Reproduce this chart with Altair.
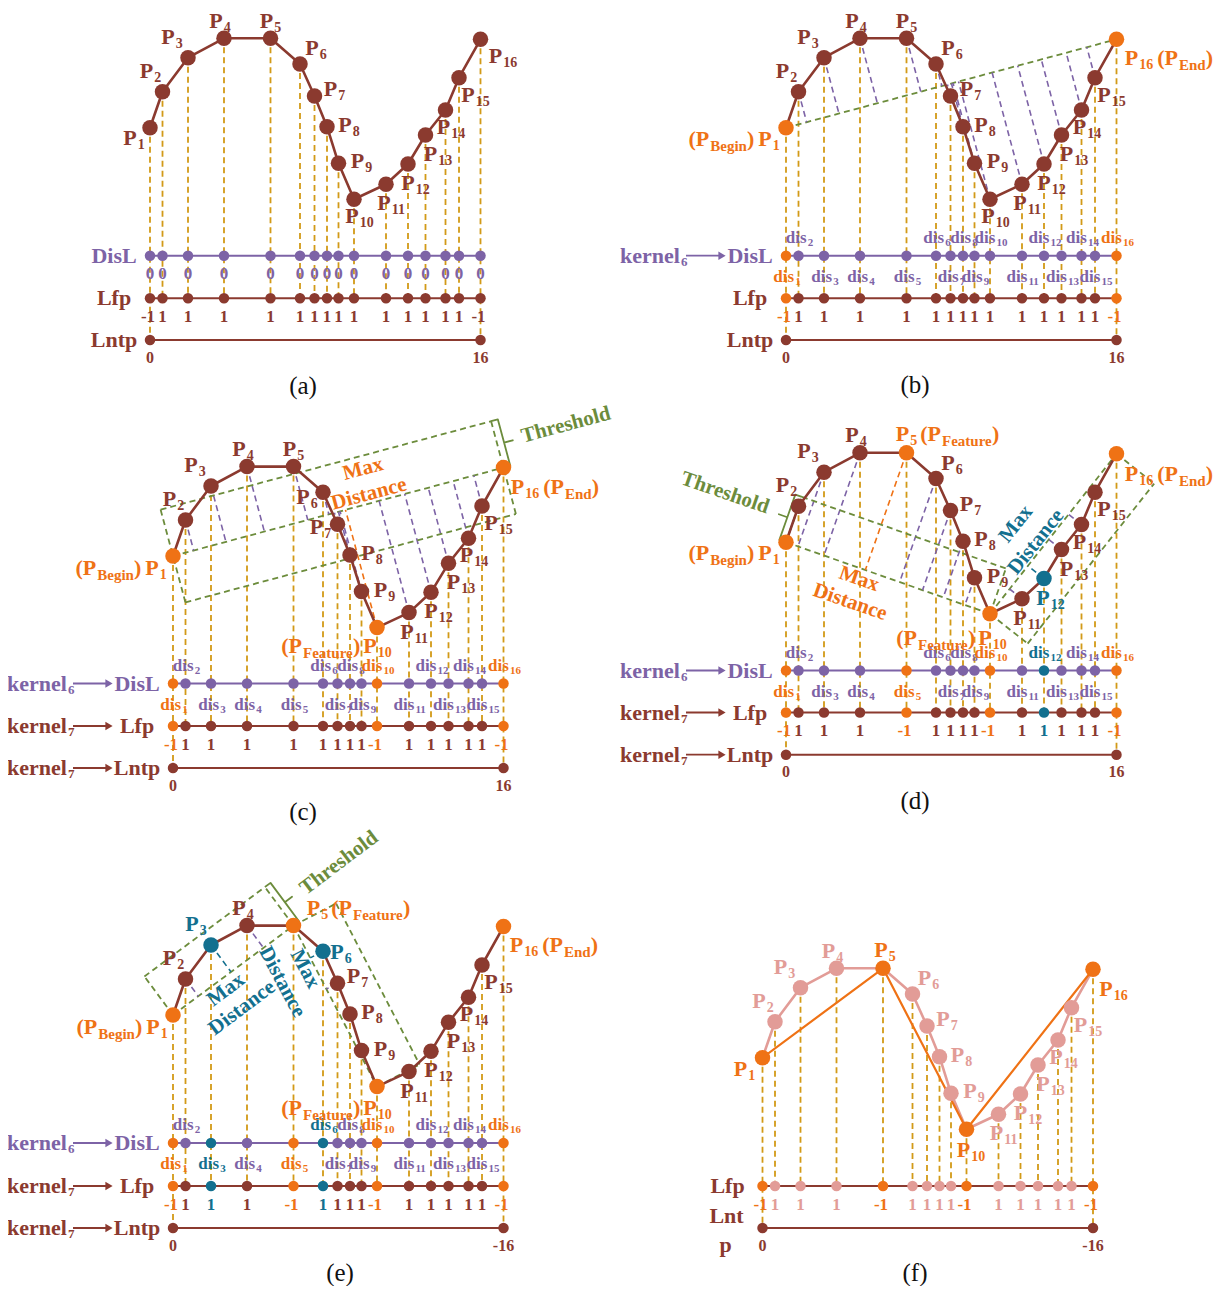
import numpy as np
import pandas as pd
import altair as alt

# ---------------- values ----------------
# shape of the 16-point curve (panel a frame)
curve_x = [150, 162.5, 188, 224, 270.5, 300, 314.5, 327, 338.5, 354, 386, 408, 425.5, 445.5, 459, 480.5]
curve_y = [127.7, 91.7, 57.7, 38.3, 38.3, 64, 96, 126.7, 163.3, 199.3, 184.3, 164, 135, 110, 77.7, 39.3]
point_ids = list(range(1, 17))
disl_values_a = ["0"] * 16
lfp_values = {
    "a": [-1, 1, 1, 1, 1, 1, 1, 1, 1, 1, 1, 1, 1, 1, 1, -1],
    "b": [-1, 1, 1, 1, 1, 1, 1, 1, 1, 1, 1, 1, 1, 1, 1, -1],
    "c": [-1, 1, 1, 1, 1, 1, 1, 1, 1, -1, 1, 1, 1, 1, 1, -1],
    "d": [-1, 1, 1, 1, -1, 1, 1, 1, 1, -1, 1, 1, 1, 1, 1, -1],
    "e": [-1, 1, 1, 1, -1, 1, 1, 1, 1, -1, 1, 1, 1, 1, 1, -1],
    "f": [-1, 1, 1, 1, -1, 1, 1, 1, 1, -1, 1, 1, 1, 1, 1, -1],
}
lntp_labels = {"a": ("0", "16"), "b": ("0", "16"), "c": ("0", "16"),
               "d": ("0", "16"), "e": ("0", "-16"), "f": ("0", "-16")}
feature_pts = {"a": [], "b": [1, 16], "c": [1, 10, 16], "d": [1, 5, 10, 16],
               "e": [1, 5, 10, 16], "f": [1, 5, 10, 16]}
max_pts = {"a": [], "b": [], "c": [], "d": [12], "e": [3, 6], "f": []}
segments = {"b": [(1, 16)], "c": [(1, 16)], "d": [(1, 10), (10, 16)], "e": [(1, 5), (5, 10)]}
dis_above = [2, 6, 8, 10, 12, 14, 16]
threshold = 48

# ---------------- layout / style ----------------
panels = ["a", "b", "c", "d", "e", "f"]
offsets = {"a": (0, 0), "b": (636, 0), "c": (23, 428.3), "d": (636, 414.5),
           "e": (23, 887.3), "f": (612.5, 930)}
rows = {"a": {"DisL": 255.7, "Lfp": 298.3, "Lntp": 340},
        "b": {"DisL": 255.7, "Lfp": 298.3, "Lntp": 340},
        "c": {"DisL": 683.5, "Lfp": 726, "Lntp": 768},
        "d": {"DisL": 670.5, "Lfp": 712.5, "Lntp": 754.7},
        "e": {"DisL": 1143, "Lfp": 1186, "Lntp": 1228},
        "f": {"Lfp": 1186, "Lntp": 1228}}
captions = {"a": (303, 386), "b": (915, 385), "c": (303, 812), "d": (915, 801),
            "e": (340, 1273), "f": (915, 1273)}
kernels = {"a": {}, "b": {"DisL": "6"},
           "c": {"DisL": "6", "Lfp": "7", "Lntp": "7"},
           "d": {"DisL": "6", "Lfp": "7", "Lntp": "7"},
           "e": {"DisL": "6", "Lfp": "7", "Lntp": "7"}, "f": {}}
lab_off = [(-20, 10), (-16, -21), (-20, -21), (-8, -17.5), (-4, -17.5), (12, -16), (16, -7), (18, -2),
           (19, -2), (-2, 17), (-2, 19), (0, 19), (5, 19), (-2, 17), (9, 17), (15, 17)]
lab_override = {
    "b": {1: (-21, 11), 16: (15, 19)},
    "c": {1: (-21, 12), 6: (-20, 5), 7: (-21, 3), 10: (-7, 18), 16: (14, 19)},
    "d": {1: (-21, 11), 5: (-4, -19), 10: (-5, 24), 12: (-1, 19), 16: (15, 20)},
    "e": {1: (-20, 12), 3: (-19, -21), 5: (20, -18), 6: (14, 1), 10: (-7, 21), 16: (13, 18)},
    "f": {1: (-22, 11), 5: (-2, -18), 10: (-3, 21), 16: (13, 20)},
}

DARK = "#8B3A2F"
ORANGE = "#EF7215"
PURPLE = "#7D63A6"
GOLD = "#D29A17"
GREEN = "#6C8C3C"
TEAL = "#13708F"
PINK = "#E29C97"

texts, dashed, rules, plines, plines2, dots, tris = [], [], [], [], [], [], []


def T(x, y, t, size, color, angle=0, align="left", weight="bold"):
    texts.append(dict(x=x, y=y, t=t, size=size, color=color, angle=angle % 360,
                      align=align, weight=weight))


def D(x, y, x2, y2, color, w):
    dashed.append(dict(x=x, y=y, x2=x2, y2=y2, color=color, w=w))


def S(x, y, x2, y2, color, w):
    rules.append(dict(x=x, y=y, x2=x2, y2=y2, color=color, w=w))


def dot(x, y, color, size):
    dots.append(dict(x=x, y=y, color=color, size=size))


gid = [0]


def polyline(pts, color, w, store):
    gid[0] += 1
    for k, (x, y) in enumerate(pts):
        store.append(dict(g=gid[0], k=k, x=float(x), y=float(y), color=color, w=w))


W = {"(": 333, ")": 333, "P": 611, "B": 667, "e": 444, "g": 500, "i": 278, "n": 556, "E": 667,
     "d": 556, "F": 611, "a": 500, "t": 333, "u": 556, "r": 444, "s": 389, "k": 556, "l": 278,
     "-": 333}


def tw(s, size):
    return sum(W.get(c, 500) for c in s) / 1000 * size


SIZES = {"b": (22, 0), "s": (14, 7), "w": (15, 7), "d": (17, 0), "ds": (11, 5)}


def compound(items, cx, cy, color, anchor=None):
    pos, widths, cur = [], [], 0.0
    for txt, kind in items:
        if kind == "gap":
            pos.append(cur); widths.append(txt); cur += txt
            continue
        size, _ = SIZES[kind]
        if kind in ("s", "w", "ds"):
            cur += 1
        pos.append(cur)
        widths.append(tw(txt, size))
        cur += widths[-1]
    if anchor is None:
        shift = cx - cur / 2
    else:
        shift = cx - (pos[anchor] + widths[anchor] / 2)
    for (txt, kind), p0 in zip(items, pos):
        if kind == "gap":
            continue
        size, ddy = SIZES[kind]
        T(shift + p0, cy + ddy, txt, size, color)


def foot(P, A, B):
    P, A, B = map(np.array, (P, A, B))
    d = B - A
    t = np.dot(P - A, d) / np.dot(d, d)
    return A + t * d


def bracket(E1, E2, u, o=7, t=9):
    E1, E2, u = np.array(E1), np.array(E2), np.array(u)
    M = (E1 + E2) / 2
    pts = [E1, E1 + o * u, M + o * u, M + (o + t) * u, M + o * u, E2 + o * u, E2]
    polyline(pts, GREEN, 1.8, plines)


for p in panels:
    dx, dy = offsets[p]
    X = [c + dx for c in curve_x]
    Y = [c + dy for c in curve_y]
    P = {i: np.array([X[i - 1], Y[i - 1]]) for i in point_ids}
    R = rows[p]
    feat, mx = feature_pts[p], max_pts[p]

    def pcol(i, base):
        if i in feat:
            return ORANGE
        if i in mx:
            return TEAL
        return base

    x1, x16 = X[0], X[15]

    # vertical projection lines
    for i in point_ids:
        yend = R["Lntp"] if i in (1, 16) else R["Lfp"]
        D(P[i][0], P[i][1] + 9, P[i][0], yend, GOLD, 1.8)

    # distance construction
    if p in segments:
        for (ia, ib) in segments[p]:
            A, B = P[ia], P[ib]
            D(A[0], A[1], B[0], B[1], GREEN, 1.8)
            for i in range(ia + 1, ib):
                F = foot(P[i], A, B)
                col = ORANGE if (i in feat) else (TEAL if i in mx else PURPLE)
                D(P[i][0], P[i][1], F[0], F[1], col, 1.6)
            if p == "b":
                continue
            u = (B - A) / np.linalg.norm(B - A)
            n = np.array([-u[1], u[0]])
            if p == "c":
                for s in (1, -1):
                    a2, b2 = A + s * threshold * n, B + s * threshold * n
                    D(a2[0], a2[1], b2[0], b2[1], GREEN, 1.8)
                ca, cb = A - threshold * n, A + threshold * n
                D(ca[0], ca[1], cb[0], cb[1], GREEN, 1.8)
                ca, cb = B - threshold * n, B + threshold * n
                D(ca[0], ca[1], cb[0], cb[1], GREEN, 1.8)
                up = -n if n[1] > 0 else n
                bracket(B + threshold * up, B, u)
            else:
                inner = [i for i in range(ia + 1, ib)]
                key = [i for i in inner if i in feat or i in mx][0]
                s = np.sign(np.dot(P[key] - A, n))
                a2, b2 = A + s * threshold * n, B + s * threshold * n
                D(a2[0], a2[1], b2[0], b2[1], GREEN, 1.8)
                D(A[0], A[1], a2[0], a2[1], GREEN, 1.8)
                D(B[0], B[1], b2[0], b2[1], GREEN, 1.8)
                if p == "d" and ia == 1:
                    bracket(A, a2, -u)
                if p == "e" and ia == 1:
                    bracket(b2, B, u)

    # main curve
    polyline([P[i] for i in point_ids], PINK if p == "f" else DARK, 2.6, plines)
    if p == "f":
        polyline([P[i] for i in feat], ORANGE, 2.2, plines2)
    for i in point_ids:
        dot(P[i][0], P[i][1], pcol(i, PINK if p == "f" else DARK), 240)

    # row lines
    if "DisL" in R:
        S(x1, R["DisL"], x16, R["DisL"], PURPLE, 2)
        for i in point_ids:
            dot(X[i - 1], R["DisL"], pcol(i, PURPLE), 110)
    S(x1, R["Lfp"], x16, R["Lfp"], DARK, 2)
    for i in point_ids:
        dot(X[i - 1], R["Lfp"], pcol(i, PINK if p == "f" else DARK), 110)
    S(x1, R["Lntp"], x16, R["Lntp"], DARK, 2)
    dot(x1, R["Lntp"], DARK, 110)
    dot(x16, R["Lntp"], DARK, 110)

    # row values
    if p == "a":
        for i in point_ids:
            T(X[i - 1], R["DisL"] + 18, disl_values_a[i - 1], 17, PURPLE, align="center")
    elif "DisL" in R:
        for i in point_ids:
            yy = R["DisL"] - 18 if i in dis_above else R["DisL"] + 21
            compound([("dis", "d"), (str(i), "ds")], X[i - 1] + 1, yy, pcol(i, PURPLE))
    for i in point_ids:
        v = lfp_values[p][i - 1]
        col = DARK if p == "a" else pcol(i, PINK if p == "f" else DARK)
        T(X[i - 1] - (2 if v < 0 else 0), R["Lfp"] + 18.5, str(v), 17, col, align="center")
    T(x1, R["Lntp"] + 17.5, lntp_labels[p][0], 16, DARK, align="center")
    T(x16, R["Lntp"] + 17.5, lntp_labels[p][1], 16, DARK, align="center")

    # row names
    if p == "f":
        T(x1 - 35, R["Lfp"], "Lfp", 22, DARK, align="center")
        T(x1 - 36, R["Lfp"] + 30, "Lnt", 22, DARK, align="center")
        T(x1 - 37, R["Lntp"] + 17, "p", 22, DARK, align="center")
    else:
        for name in ("DisL", "Lfp", "Lntp"):
            col = PURPLE if name == "DisL" else DARK
            T(x1 - 36, R[name], name, 22, col, align="center")
            if name in kernels[p]:
                T(x1 - 166, R[name], "kernel", 22, col)
                T(x1 - 166 + tw("kernel", 22) + 1, R[name] + 6, kernels[p][name], 13, col)
                S(x1 - 100, R[name], x1 - 66, R[name], col, 1.8)
                tris.append(dict(x=x1 - 64, y=R[name], color=col))

    # point labels
    for i in point_ids:
        ox, oy = lab_override.get(p, {}).get(i, lab_off[i - 1])
        cx, cy = P[i][0] + ox, P[i][1] + oy
        if p == "f":
            col = ORANGE if i in feat else PINK
            compound([("P", "b"), (str(i), "s")], cx, cy, col, anchor=0)
            continue
        if p != "a" and i == 1:
            compound([("(", "b"), ("P", "b"), ("Begin", "w"), (")", "b"), (4, "gap"),
                      ("P", "b"), ("1", "s")], cx, cy, ORANGE, anchor=5)
        elif p != "a" and i == 16:
            compound([("P", "b"), ("16", "s"), (4, "gap"), ("(", "b"), ("P", "b"),
                      ("End", "w"), (")", "b")], cx, cy, ORANGE, anchor=0)
        elif i == 5 and i in feat:
            compound([("P", "b"), ("5", "s"), (3, "gap"), ("(", "b"), ("P", "b"),
                      ("Feature", "w"), (")", "b")], cx, cy, ORANGE, anchor=0)
        elif i == 10 and i in feat:
            compound([("(", "b"), ("P", "b"), ("Feature", "w"), (")", "b"), (3, "gap"),
                      ("P", "b"), ("10", "s")], cx, cy, ORANGE, anchor=5)
        else:
            compound([("P", "b"), (str(i), "s")], cx, cy, pcol(i, DARK), anchor=0)

    cxp, cyp = captions[p]
    T(cxp, cyp, "(" + p + ")", 25, "#111111", align="center", weight="normal")

# annotation texts
T(363, 469, "Max", 21, ORANGE, -15, "center")
T(369, 494, "Distance", 21, ORANGE, -15, "center")
T(566, 425, "Threshold", 21, GREEN, -15, "center")
T(725, 493, "Threshold", 21, GREEN, 19, "center")
T(859, 579, "Max", 21, ORANGE, 19, "center")
T(850, 602, "Distance", 21, ORANGE, 19, "center")
T(1016, 524, "Max", 21, TEAL, -51.5, "center")
T(1036, 542, "Distance", 21, TEAL, -51.5, "center")
T(339, 863, "Threshold", 21, GREEN, -37, "center")
T(226, 990, "Max", 21, TEAL, -37, "center")
T(242, 1008, "Distance", 21, TEAL, -37, "center")
T(282, 982, "Distance", 21, TEAL, 62, "center")
T(305, 969, "Max", 21, TEAL, 62, "center")

# ---------------- chart ----------------
xs = alt.Scale(domain=[8, 1220], nice=False, zero=False)
ys = alt.Scale(domain=[8, 1286], nice=False, zero=False, reverse=True)
ex = alt.X("x:Q", scale=xs, axis=None)
ey = alt.Y("y:Q", scale=ys, axis=None)
ecol = alt.Color("color:N", scale=None)

layers = []
layers.append(alt.Chart(pd.DataFrame(dashed)).mark_rule(strokeDash=[6, 4]).encode(
    x=ex, y=ey, x2="x2:Q", y2="y2:Q", color=ecol, strokeWidth=alt.StrokeWidth("w:Q", scale=None)))
layers.append(alt.Chart(pd.DataFrame(rules)).mark_rule().encode(
    x=ex, y=ey, x2="x2:Q", y2="y2:Q", color=ecol, strokeWidth=alt.StrokeWidth("w:Q", scale=None)))
for store in (plines, plines2):
    layers.append(alt.Chart(pd.DataFrame(store)).mark_line(strokeJoin="round").encode(
        x=ex, y=ey, detail="g:N", order="k:Q", color=ecol,
        strokeWidth=alt.StrokeWidth("w:Q", scale=None)))
layers.append(alt.Chart(pd.DataFrame(dots)).mark_circle(opacity=1).encode(
    x=ex, y=ey, color=ecol, size=alt.Size("size:Q", scale=None)))
layers.append(alt.Chart(pd.DataFrame(tris)).mark_point(
    shape="triangle-right", filled=True, opacity=1, size=70).encode(x=ex, y=ey, color=ecol))

tdf = pd.DataFrame(texts)
for (al, wt), sub in tdf.groupby(["align", "weight"]):
    layers.append(alt.Chart(sub).mark_text(
        align=al, baseline="middle", font="Liberation Serif", fontWeight=wt).encode(
        x=ex, y=ey, text="t:N", color=ecol,
        size=alt.Size("size:Q", scale=None), angle=alt.Angle("angle:Q", scale=None)))

chart = alt.layer(*layers).properties(
    width=1212, height=1278, padding=0,
    autosize=alt.AutoSizeParams(type="none"),
    background="white",
).configure_view(stroke=None)

chart.save("out.html", embed_options={"renderer": "svg", "actions": False})
